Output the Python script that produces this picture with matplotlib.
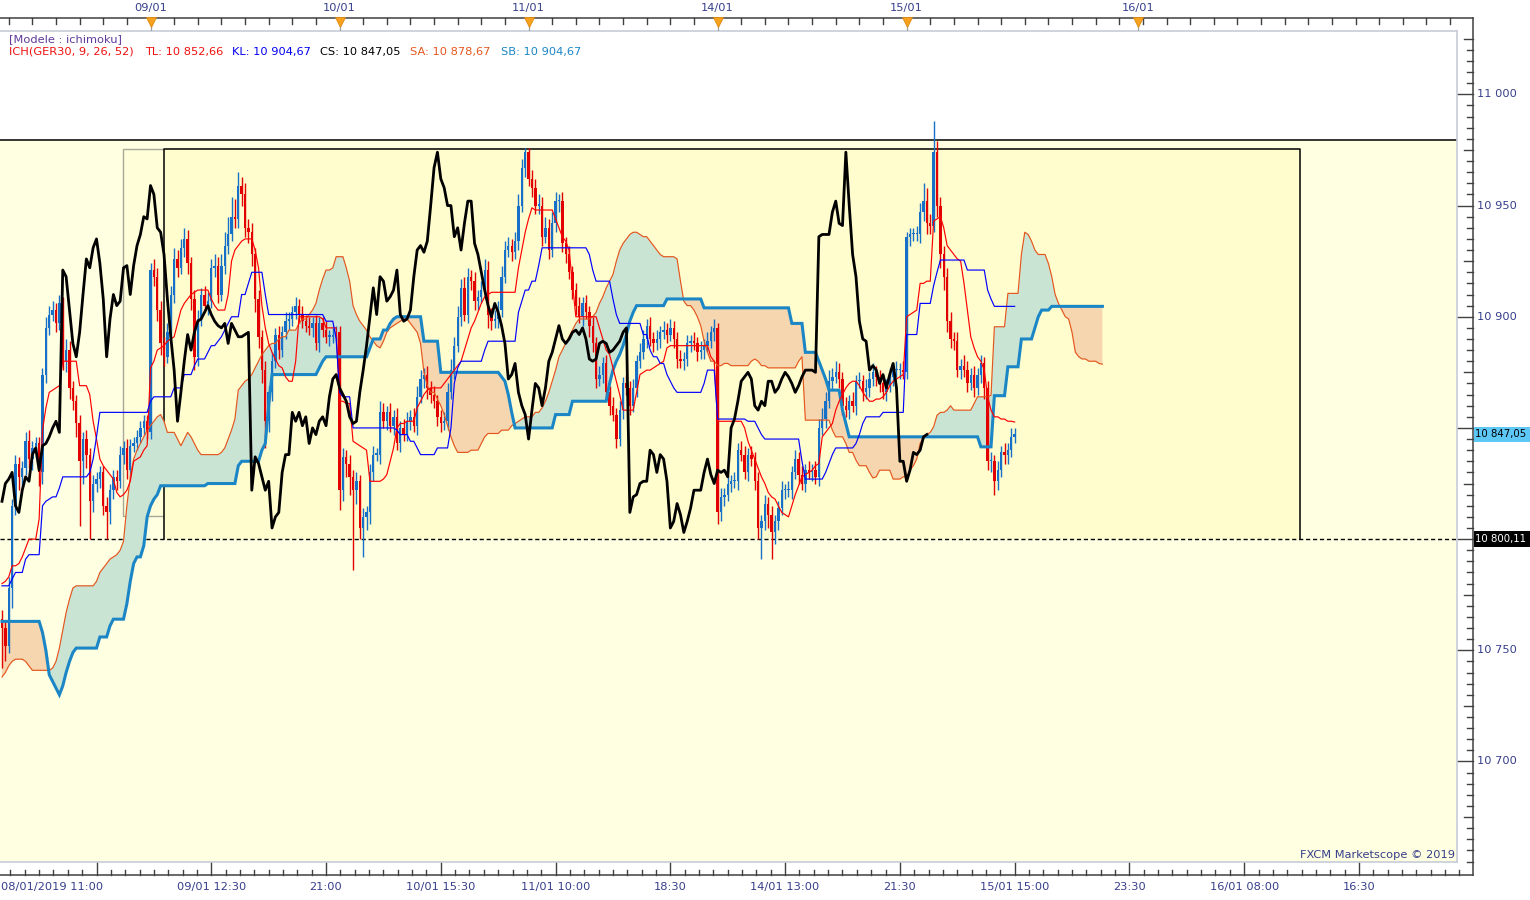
import numpy as np
import matplotlib
matplotlib.use("Agg")
import matplotlib.pyplot as plt
from matplotlib.patches import Rectangle

plt.rcParams['font.family'] = ['DejaVu Sans']

# ---------------- DATA (15-minute bars, GER30) ----------------
OPEN_FIRST = 10764
CLOSE = [
    10760, 10752, 10778, 10815, 10834, 10828, 10832, 10844, 10836, 10841,
    10843, 10830, 10874, 10895, 10901, 10903, 10897, 10906, 10880, 10885,
    10868, 10862, 10852, 10835, 10845, 10838, 10817, 10825, 10827, 10830,
    10815, 10812, 10822, 10828, 10826, 10838, 10841, 10831, 10842, 10843,
    10846, 10850, 10853, 10848, 10921, 10918, 10903, 10888, 10882, 10893,
    10910, 10926, 10922, 10931, 10935, 10924, 10908, 10882, 10899, 10910,
    10905, 10907, 10922, 10923, 10910, 10923, 10932, 10937, 10945, 10944,
    10959, 10955, 10940, 10938, 10928, 10908, 10891, 10876, 10853, 10866,
    10880, 10892, 10885, 10893, 10898, 10899, 10902, 10905, 10901, 10898,
    10896, 10895, 10897, 10888, 10897, 10894, 10891, 10891, 10892, 10893,
    10822, 10837, 10834, 10828, 10822, 10826, 10805, 10810, 10812, 10830,
    10838, 10838, 10857, 10853, 10857, 10851, 10855, 10843, 10850, 10847,
    10853, 10855, 10851, 10864, 10872, 10874, 10868, 10865, 10862, 10855,
    10852, 10853, 10866, 10876, 10887, 10900, 10913, 10901, 10918, 10916,
    10907, 10909, 10912, 10921, 10901, 10898, 10899, 10903, 10918, 10930,
    10932, 10929, 10934, 10950, 10967, 10974, 10962, 10958, 10950, 10950,
    10936, 10940, 10930, 10942, 10952, 10952, 10933, 10928, 10920, 10912,
    10905, 10900, 10906, 10902, 10896, 10888, 10872, 10874, 10879, 10866,
    10860, 10856, 10845, 10858, 10870, 10868, 10860, 10868, 10880, 10884,
    10890, 10896, 10890, 10888, 10890, 10893, 10894, 10892, 10895, 10890,
    10881, 10880, 10881, 10888, 10889, 10888, 10884, 10885, 10887, 10889,
    10893, 10895, 10812, 10819, 10820, 10825, 10826, 10826, 10840, 10838,
    10830, 10838, 10836, 10826, 10805, 10808, 10816, 10811, 10803, 10808,
    10814, 10822, 10822, 10822, 10830, 10836, 10829, 10825, 10831, 10830,
    10831, 10828, 10850, 10854, 10862, 10871, 10873, 10875, 10872, 10860,
    10858, 10862, 10860, 10871, 10871, 10866, 10868, 10872, 10875, 10873,
    10870, 10866, 10869, 10873, 10876, 10876, 10876, 10875, 10936, 10937,
    10937, 10937, 10947, 10952, 10942, 10941, 10974, 10950, 10928, 10918,
    10898, 10890, 10889, 10876, 10878, 10876, 10870, 10874, 10868, 10874,
    10879, 10868, 10835, 10835, 10826, 10831, 10839, 10838, 10840, 10846,
    10847.05,
]
WICK_UP = [
    4, 3, 5, 3, 4, 3, 3, 4, 5, 3,  3, 3, 3, 5, 4, 4, 3, 4, 3, 5,
    4, 3, 3, 4, 3, 4, 3, 4, 3, 3,  3, 4, 3, 3, 3, 4, 3, 4, 3, 3,
    3, 3, 3, 3, 3, 5, 4, 4, 3, 4,  4, 5, 4, 4, 5, 4, 3, 4, 4, 3,
    4, 4, 4, 5, 4, 5, 6, 8, 9, 8,  6, 4, 5, 4, 4, 3, 4, 3, 4, 3,
    4, 3, 4, 3, 4, 3, 3, 4, 3, 4,  3, 4, 3, 4, 3, 3, 4, 3, 3, 3,
    3, 4, 3, 4, 3, 4, 3, 4, 3, 4,  4, 3, 5, 4, 3, 4, 3, 4, 3, 4,
    4, 3, 4, 5, 4, 3, 4, 3, 4, 3,  3, 4, 4, 5, 4, 5, 4, 5, 4, 3,
    4, 3, 4, 5, 4, 3, 4, 4, 5, 4,  4, 3, 4, 5, 4, 2, 2, 4, 4, 5,
    4, 5, 4, 5, 4, 3, 4, 3, 4, 3,  3, 4, 3, 4, 3, 4, 3, 4, 3, 4,
    3, 4, 3, 4, 3, 4, 3, 4, 3, 4,  4, 3, 4, 3, 4, 3, 4, 3, 4, 3,
    3, 4, 3, 4, 3, 4, 3, 4, 3, 4,  3, 4, 2, 4, 3, 4, 3, 4, 3, 4,
    4, 3, 4, 3, 4, 3, 4, 3, 4, 3,  3, 4, 3, 4, 3, 4, 3, 4, 3, 4,
    3, 4, 4, 5, 4, 5, 4, 5, 4, 3,  4, 3, 4, 3, 4, 3, 4, 3, 4, 3,
    3, 4, 3, 4, 3, 4, 3, 4, 2, 3,  3, 4, 4, 8, 6, 4, 14, 5, 4, 4,
    4, 4, 3, 4, 3, 5, 4, 3, 4, 3,  4, 3, 3, 4, 3, 4, 3, 4, 3, 4,
    3,
]
WICK_DN = [
    18, 7, 3, 9, 4, 6, 5, 3, 4, 5,  4, 6, 5, 4, 3, 3, 4, 3, 4, 5,
    5, 4, 6, 29, 10, 6, 17, 5, 4, 4,  4, 12, 5, 4, 4, 3, 4, 4, 3, 3,
    3, 3, 3, 3, 3, 4, 5, 5, 4, 3,  3, 4, 4, 3, 4, 5, 5, 6, 4, 3,
    3, 4, 3, 4, 4, 3, 4, 4, 3, 4,  4, 5, 4, 5, 5, 6, 5, 6, 12, 5,
    4, 3, 4, 3, 3, 4, 3, 3, 4, 3,  3, 3, 4, 3, 4, 3, 3, 4, 3, 3,
    9, 5, 6, 8, 36, 6, 5, 13, 6, 5,  4, 3, 4, 3, 4, 3, 4, 3, 4, 3,
    3, 4, 3, 4, 3, 4, 5, 4, 3, 4,  4, 3, 4, 3, 4, 3, 4, 3, 4, 4,
    4, 4, 3, 4, 6, 4, 3, 4, 3, 3,  3, 4, 3, 4, 3, 4, 3, 4, 4, 4,
    4, 3, 4, 3, 4, 5, 4, 4, 3, 4,  4, 3, 4, 3, 5, 4, 4, 3, 4, 3,
    4, 3, 4, 3, 4, 3, 4, 3, 4, 3,  3, 4, 3, 4, 3, 4, 3, 4, 3, 4,
    4, 3, 4, 3, 4, 3, 4, 3, 4, 3,  3, 4, 5, 4, 4, 3, 4, 3, 4, 3,
    3, 4, 3, 4, 5, 14, 4, 6, 12, 5,  4, 3, 4, 3, 4, 3, 4, 3, 4, 3,
    4, 3, 4, 3, 4, 3, 4, 3, 4, 4,  3, 4, 3, 4, 3, 4, 3, 4, 3, 4,
    4, 3, 4, 3, 4, 3, 4, 3, 3, 4,  3, 3, 4, 4, 5, 4, 3, 5, 6, 6,
    5, 4, 4, 3, 4, 3, 4, 3, 4, 3,  4, 5, 4, 5, 6, 4, 3, 4, 4, 3,
    3,
]
# Tenkan-sen (TL)
TL = [
    10780, 10781, 10783, 10788, 10788, 10789, 10792, 10796, 10800, 10800,
    10800, 10809, 10849, 10859, 10866, 10867, 10868, 10869, 10880, 10880,
    10880, 10880, 10880, 10869, 10869, 10869, 10865, 10853, 10845, 10836,
    10833, 10831, 10829, 10827, 10821, 10819, 10820, 10822, 10826, 10835,
    10836, 10837, 10840, 10842, 10877, 10880, 10885, 10886, 10887, 10889,
    10890, 10891, 10897, 10903, 10906, 10908, 10910, 10911, 10912, 10912,
    10912, 10912, 10908, 10905, 10903, 10903, 10903, 10910, 10925, 10930,
    10932, 10934, 10935, 10935, 10935, 10930, 10922, 10905, 10895, 10888,
    10884, 10881, 10878, 10877, 10873, 10871, 10871, 10880, 10900, 10900,
    10900, 10900, 10900, 10900, 10900, 10899, 10895, 10895, 10895, 10895,
    10862, 10862, 10861, 10861, 10844, 10843, 10842, 10841, 10840, 10826,
    10826, 10826, 10826, 10827, 10829, 10835, 10841, 10850, 10852, 10852,
    10853, 10853, 10853, 10859, 10862, 10865, 10867, 10868, 10868, 10868,
    10868, 10870, 10872, 10874, 10876, 10878, 10880, 10885, 10890, 10895,
    10898, 10902, 10906, 10909, 10910, 10911, 10911, 10911, 10911, 10911,
    10911, 10911, 10911, 10922, 10930, 10938, 10944, 10949, 10948, 10948,
    10948, 10948, 10948, 10948, 10944, 10940, 10936, 10934, 10930, 10915,
    10900, 10900, 10900, 10900, 10900, 10900, 10900, 10895, 10890, 10885,
    10883, 10877, 10871, 10865, 10858, 10858, 10858, 10858, 10866, 10874,
    10875, 10876, 10876, 10877, 10878, 10879, 10880, 10886, 10887, 10887,
    10887, 10887, 10887, 10887, 10887, 10887, 10887, 10887, 10887, 10887,
    10882, 10880, 10853, 10853, 10853, 10853, 10853, 10853, 10853, 10853,
    10850, 10844, 10840, 10836, 10832, 10828, 10825, 10821, 10819, 10818,
    10815, 10812, 10811, 10810, 10815, 10820, 10824, 10828, 10829, 10830,
    10831, 10833, 10834, 10846, 10848, 10850, 10852, 10858, 10862, 10865,
    10868, 10870, 10871, 10871, 10869, 10866, 10864, 10862, 10862, 10863,
    10863, 10864, 10866, 10869, 10871, 10872, 10873, 10874, 10900, 10901,
    10902, 10903, 10915, 10915, 10916, 10916, 10943, 10944, 10945, 10940,
    10932, 10930, 10928, 10926, 10925, 10915, 10903, 10891, 10886, 10882,
    10880, 10876, 10864, 10858, 10855, 10855, 10854, 10854, 10853, 10853,
    10852.66,
]
# Kijun-sen (KL)
KL = [
    10779, 10779, 10779, 10782, 10785, 10785, 10785, 10791, 10793, 10793,
    10793, 10793, 10815, 10817, 10818, 10819, 10819, 10823, 10828, 10828,
    10828, 10828, 10828, 10828, 10828, 10828, 10830, 10836, 10846, 10857,
    10857, 10857, 10857, 10857, 10857, 10857, 10857, 10857, 10857, 10857,
    10857, 10857, 10857, 10857, 10862, 10864, 10864, 10864, 10864, 10864,
    10864, 10868, 10868, 10868, 10874, 10874, 10874, 10878, 10881, 10881,
    10881, 10884, 10887, 10887, 10889, 10891, 10894, 10897, 10900, 10900,
    10900, 10910, 10910, 10915, 10920, 10920, 10920, 10920, 10910, 10901,
    10901, 10901, 10901, 10901, 10901, 10901, 10901, 10901, 10901, 10901,
    10901, 10901, 10901, 10901, 10901, 10901, 10898, 10898, 10898, 10890,
    10866, 10864, 10864, 10864, 10850, 10850, 10850, 10850, 10850, 10850,
    10850, 10850, 10850, 10850, 10850, 10850, 10850, 10849, 10847, 10847,
    10847, 10844, 10844, 10841, 10838, 10838, 10838, 10838, 10838, 10841,
    10841, 10841, 10841, 10850, 10870, 10877, 10880, 10880, 10880, 10880,
    10880, 10880, 10880, 10885, 10889, 10889, 10889, 10889, 10889, 10889,
    10889, 10889, 10889, 10902, 10907, 10912, 10912, 10916, 10916, 10923,
    10931, 10931, 10931, 10931, 10931, 10931, 10931, 10931, 10931, 10931,
    10931, 10931, 10931, 10931, 10928, 10921, 10916, 10916, 10916, 10916,
    10916, 10908, 10901, 10897, 10897, 10897, 10897, 10897, 10897, 10897,
    10892, 10892, 10885, 10882, 10882, 10879, 10879, 10874, 10871, 10868,
    10866, 10866, 10866, 10866, 10866, 10866, 10866, 10866, 10870, 10876,
    10876, 10876, 10854, 10854, 10854, 10854, 10854, 10854, 10854, 10854,
    10854, 10853, 10853, 10853, 10850, 10847, 10845, 10845, 10845, 10845,
    10845, 10845, 10845, 10845, 10845, 10845, 10845, 10835, 10827, 10827,
    10827, 10827, 10827, 10827, 10830, 10834, 10838, 10841, 10841, 10841,
    10841, 10841, 10841, 10843, 10847, 10852, 10855, 10855, 10855, 10855,
    10855, 10857, 10857, 10857, 10857, 10857, 10857, 10857, 10892, 10892,
    10892, 10892, 10906, 10906, 10906, 10906, 10914, 10920, 10925.5, 10925.5,
    10925.5, 10925.5, 10925.5, 10925.5, 10925.5, 10925.5, 10921, 10921, 10921, 10921,
    10921, 10921, 10912, 10908, 10904.67, 10904.67, 10904.67, 10904.67, 10904.67, 10904.67,
    10904.67,
]
# Senkou span A (already displaced 26 bars ahead, 327 points)
SA = [
    10738, 10740, 10743, 10745, 10746, 10746, 10746, 10745, 10743, 10741,
    10741, 10741, 10741, 10741, 10741, 10742, 10745, 10751, 10759, 10767,
    10773, 10778, 10779, 10779, 10779, 10779, 10779, 10779, 10781, 10785,
    10787, 10789, 10791, 10792, 10793, 10795, 10799, 10815, 10828, 10836,
    10840, 10843, 10846, 10849, 10851, 10853, 10855, 10856, 10853, 10848,
    10848, 10848, 10845, 10842, 10845, 10848, 10846, 10843, 10840, 10838,
    10838, 10838, 10838, 10838, 10838, 10839, 10841, 10845, 10849, 10854,
    10867, 10869, 10871, 10872, 10874, 10877, 10880, 10883, 10885, 10887,
    10888, 10888, 10890, 10891, 10891, 10894, 10894, 10894, 10897, 10899,
    10899, 10901, 10903, 10906, 10912, 10917, 10921, 10921, 10922, 10927,
    10927, 10927, 10922, 10916, 10905, 10901, 10898, 10896, 10894, 10891,
    10889, 10887, 10886, 10889, 10893, 10895, 10896, 10897, 10898, 10899,
    10899, 10897, 10895, 10893, 10888, 10875, 10869, 10866, 10866, 10863,
    10860, 10856, 10851, 10846, 10842, 10839, 10839, 10839, 10839, 10840,
    10840, 10840, 10843, 10846, 10847.5, 10847.5, 10847.5, 10847.5, 10849, 10849,
    10849, 10851, 10852, 10853, 10854, 10855, 10855, 10855, 10857, 10857,
    10859, 10862, 10866, 10871, 10876, 10882, 10885, 10888, 10891, 10894,
    10897, 10899, 10899, 10899, 10899, 10900, 10902, 10906, 10909, 10913,
    10916, 10919, 10925, 10930, 10933, 10935, 10937, 10938, 10938, 10937,
    10936, 10936, 10934, 10932, 10930, 10928, 10927, 10927, 10927, 10927,
    10926, 10916, 10907, 10905, 10905, 10903, 10900, 10896, 10889, 10884,
    10880, 10880, 10878, 10878, 10879, 10879, 10878, 10878, 10878, 10878,
    10878, 10878, 10880, 10881, 10880, 10878, 10878, 10877, 10877, 10877,
    10877, 10877, 10877, 10877, 10877, 10877, 10880, 10882, 10853.5, 10853.5,
    10853.5, 10853.5, 10853.5, 10853.5, 10853.5, 10853.5, 10849, 10846, 10846, 10846,
    10843, 10839, 10839, 10835.5, 10833, 10833, 10833, 10830, 10827.5, 10828,
    10831, 10831, 10831, 10831, 10827, 10827, 10827, 10828, 10828, 10831,
    10833, 10836, 10843, 10845, 10847, 10848, 10850.5, 10855.7, 10857, 10857,
    10858, 10860, 10858, 10858, 10858, 10858, 10858, 10858, 10861, 10864,
    10864, 10864, 10864, 10864.7, 10895.5, 10895.5, 10895.5, 10895.5, 10910.5, 10910.5,
    10910.5, 10910.5, 10928, 10938, 10937, 10934, 10930, 10928, 10928, 10928,
    10924, 10918, 10910, 10906, 10903, 10900, 10899, 10893, 10884, 10882,
    10881, 10881, 10880, 10880, 10880, 10879, 10878.67,
]
# Senkou span B (already displaced 26 bars ahead, 327 points)
SB = [
    10763, 10763, 10763, 10763, 10763, 10763, 10763, 10763, 10763, 10763,
    10763, 10763, 10758, 10750, 10739, 10736, 10733, 10730, 10734, 10740,
    10745, 10749, 10751, 10751, 10751, 10751, 10751, 10751, 10751, 10756,
    10756, 10756, 10761, 10764, 10764, 10764, 10764, 10771, 10781, 10789,
    10792, 10792, 10797, 10810, 10815, 10818, 10820, 10824, 10824, 10824,
    10824, 10824, 10824, 10824, 10824, 10824, 10824, 10824, 10824, 10824,
    10824, 10825, 10825, 10825, 10825, 10825, 10825, 10825, 10825, 10825,
    10833, 10835, 10835, 10835, 10835, 10835, 10835, 10840, 10843, 10860,
    10874, 10874, 10874, 10874, 10874, 10874, 10874, 10874, 10874, 10874,
    10874, 10874, 10874, 10874, 10877, 10880, 10882, 10882, 10882, 10882,
    10882, 10882, 10882, 10882, 10882, 10882, 10882, 10882, 10882, 10886,
    10890, 10890, 10890, 10894, 10894, 10897, 10899, 10900, 10900, 10900,
    10900, 10900, 10900, 10900, 10900, 10889, 10889, 10889, 10889, 10889,
    10875, 10875, 10875, 10875, 10875, 10875, 10875, 10875, 10875, 10875,
    10875, 10875, 10875, 10875, 10875, 10875, 10875, 10875, 10873, 10871,
    10865, 10857, 10850, 10850, 10850, 10850, 10850, 10850, 10850, 10850,
    10850, 10850, 10850, 10850, 10856, 10856, 10856, 10856, 10856, 10862,
    10862, 10862, 10862, 10862, 10862, 10862, 10862, 10862, 10862, 10862,
    10870, 10876, 10880, 10883, 10887, 10892, 10898, 10902, 10905, 10905,
    10905, 10905, 10905, 10905, 10905, 10905, 10905, 10908, 10908, 10908,
    10908, 10908, 10908, 10908, 10908, 10908, 10908, 10908, 10904, 10904,
    10904, 10904, 10904, 10904, 10904, 10904, 10904, 10904, 10904, 10904,
    10904, 10904, 10904, 10904, 10904, 10904, 10904, 10904, 10904, 10904,
    10904, 10904, 10904, 10904, 10897, 10897, 10897, 10897, 10884, 10884,
    10884, 10884, 10880, 10876, 10872, 10867, 10867, 10867, 10867, 10858,
    10852, 10846, 10846, 10846, 10846, 10846, 10846, 10846, 10846, 10846,
    10846, 10846, 10846, 10846, 10846, 10846, 10846, 10846, 10846, 10846,
    10846, 10846, 10846, 10846, 10846, 10846, 10846, 10846, 10846, 10846,
    10846, 10846, 10846, 10846, 10846, 10846, 10846, 10846, 10846, 10846,
    10841.5, 10841.5, 10841.5, 10841.5, 10864.5, 10864.5, 10864.5, 10864.5, 10877.5, 10877.5,
    10877.5, 10877.5, 10890, 10890, 10890, 10890, 10895, 10900, 10903, 10903,
    10903, 10904.67, 10904.67, 10904.67, 10904.67, 10904.67, 10904.67, 10904.67, 10904.67, 10904.67,
    10904.67, 10904.67, 10904.67, 10904.67, 10904.67, 10904.67, 10904.67,
]
SHIFT = 26
# drawn objects (price levels / bar indices)
TOP_LINE = 10979.4
LOWER_LINE = 10800.11
BOX_BLACK = (48.0, 384.5, 10800.11, 10975.4)
BOX_GRAY = (35.8, 376.3, 10810.3, 10975.4)
DAY_BARS = [44, 100, 156, 212, 268, 336.5]
DAY_LABELS = ["09/01", "10/01", "11/01", "14/01", "15/01", "16/01"]
TIME_BARS = [62, 96, 130, 164, 198, 232, 266, 300, 334, 368, 402]
TIME_LABELS = ["09/01 12:30", "21:00", "10/01 15:30", "11/01 10:00", "18:30",
               "14/01 13:00", "21:30", "15/01 15:00", "23:30", "16/01 08:00", "16:30"]
FIRST_LABEL = "08/01/2019 11:00"

# ---------------- LAYOUT ----------------
W, H = 1530, 900
fig = plt.figure(figsize=(W / 100, H / 100), dpi=100)
fig.patch.set_facecolor("white")

PX_L, PX_R, PX_T, PX_B = 0, 1457, 31, 862
X_LEFT, X_RIGHT = -0.59, 431.05
P_TOP, P_BOT = 11028.5, 10654.8
AXIS_X = 1473
TXT = "#363E8A"
FS = 8.2
FS_BOX = 7.3


def frect(x0, y0, x1, y1):
    return [x0 / W, 1 - y1 / H, (x1 - x0) / W, (y1 - y0) / H]


def bar_at(px):
    return X_LEFT + (px - PX_L) * (X_RIGHT - X_LEFT) / (PX_R - PX_L)


def price_at(py):
    return P_TOP + (py - PX_T) * (P_BOT - P_TOP) / (PX_B - PX_T)


def fmt(v):
    s = f"{v:,.2f}"
    return s.replace(",", " ").replace(".", ",")


# ---------------- MAIN AXES ----------------
ax = fig.add_axes(frect(PX_L, PX_T, PX_R, PX_B))
ax.set_xlim(X_LEFT, X_RIGHT)
ax.set_ylim(P_BOT, P_TOP)
ax.set_xticks([])
ax.set_yticks([])
ax.set_facecolor("white")
for k, s in ax.spines.items():
    s.set_color("#C6CDD8")
    s.set_linewidth(1.2)
ax.spines["left"].set_visible(False)

ax.axhspan(P_BOT, TOP_LINE, color="#FFFFE1", lw=0, zorder=0)
ax.axhline(TOP_LINE, color="black", lw=1.1, zorder=1)

gx0, gx1, gy0, gy1 = BOX_GRAY
ax.add_patch(Rectangle((gx0, gy0), gx1 - gx0, gy1 - gy0, fc="#FFFED8",
                       ec="#A8A898", lw=1.0, zorder=0.5))
bx0, bx1, by0, by1 = BOX_BLACK
ax.add_patch(Rectangle((bx0, by0), bx1 - bx0, by1 - by0, fc="#FFFDCE",
                       ec="none", lw=0, zorder=0.6))
ax.plot([bx0, bx0, bx1, bx1], [by0, by1, by1, by0], color="black", lw=1.1,
        zorder=1)
ax.axhline(LOWER_LINE, color="black", lw=1.0, ls=(0, (3, 2)), zorder=1)

# cloud
sa = np.array(SA, float)
sb = np.array(SB, float)
kk = np.arange(len(sa))
ax.fill_between(kk, sa, sb, where=sa >= sb, interpolate=True,
                color="#CAE4D4", lw=0, zorder=2)
ax.fill_between(kk, sa, sb, where=sa < sb, interpolate=True,
                color="#F6D6AF", lw=0, zorder=2)

# candles
close = np.array(CLOSE, float)
opn = np.concatenate([[OPEN_FIRST], close[:-1]])
hi = np.maximum(opn, close) + np.array(WICK_UP, float)
lo = np.minimum(opn, close) - np.array(WICK_DN, float)
idx = np.arange(len(close))
BLUE, RED = "#1670C8", "#E30000"
cols = np.where(close >= opn, BLUE, RED)
ax.vlines(idx, lo, hi, colors=cols, lw=1.0, zorder=3)
body = np.maximum(np.abs(close - opn), 0.7)
ax.bar(idx, body, bottom=np.minimum(opn, close), width=0.7, color=cols,
       lw=0, zorder=3)

# indicator lines
ax.plot(kk, sa, color="#E4561E", lw=0.85, zorder=4)
ax.plot(kk, sb, color="#1B86C6", lw=2.2, zorder=4, solid_joinstyle="miter")
ax.plot(idx, TL, color="#FF0000", lw=0.85, zorder=5)
ax.plot(idx, KL, color="#0000FF", lw=0.85, zorder=5)
ax.plot(idx[SHIFT:] - SHIFT, close[SHIFT:], color="black", lw=2.0, zorder=6)

ax.text(0.9985, (PX_B - 855) / (PX_B - PX_T), "FXCM Marketscope © 2019",
        transform=ax.transAxes, ha="right", va="center", fontsize=FS,
        color=TXT, zorder=7)

# ---------------- RIGHT PRICE AXIS ----------------
axr = fig.add_axes(frect(PX_R, 0, W, H))
axr.set_xlim(PX_R, W)
axr.set_ylim(price_at(H), price_at(0))
axr.axis("off")
axr.plot([AXIS_X, AXIS_X], [price_at(18), price_at(875)], color="#404040",
         lw=1.1, clip_on=False)
last_cs = close[-1]
for p in range(10655, 11030, 5):
    if p % 50 == 0:
        x0 = PX_R + 1
    elif p % 25 == 0:
        x0 = AXIS_X - 9
    else:
        x0 = AXIS_X - 6
    axr.plot([x0, AXIS_X], [p, p], color="#404040", lw=1.0)
    # labels hidden behind the value boxes are not drawn
    if p % 50 == 0 and abs(p - last_cs) > 8 and abs(p - LOWER_LINE) > 8:
        axr.text(AXIS_X + 4, p, f"{p // 1000} {p % 1000:03d}", ha="left",
                 va="center", fontsize=FS, color=TXT, zorder=2)
half = 3.5
axr.add_patch(Rectangle((AXIS_X + 1, last_cs - half), W - AXIS_X, 2 * half,
                        fc="#5DC8F6", ec="none", zorder=3))
axr.text(AXIS_X + 2, last_cs, fmt(last_cs), ha="left", va="center",
         fontsize=FS_BOX, color="black", zorder=4)
axr.add_patch(Rectangle((AXIS_X + 1, LOWER_LINE - half), W - AXIS_X, 2 * half,
                        fc="black", ec="none", zorder=3))
axr.text(AXIS_X + 2, LOWER_LINE, fmt(LOWER_LINE), ha="left", va="center",
         fontsize=FS_BOX, color="white", zorder=4)

# ---------------- BOTTOM TIME AXIS ----------------
axb = fig.add_axes(frect(0, PX_B, AXIS_X + 1, H))
axb.set_xlim(bar_at(0), bar_at(AXIS_X + 1))
axb.set_ylim(H, PX_B)
axb.axis("off")
axb.plot([bar_at(0), bar_at(AXIS_X)], [875, 875], color="#404040", lw=1.1)
major = np.arange(28, bar_at(AXIS_X), 34)
minor = np.arange(28 - 34, bar_at(AXIS_X), 34 / 8)
for b in minor:
    if b < bar_at(0):
        continue
    if np.min(np.abs(major - b)) < 0.1:
        axb.plot([b, b], [PX_B + 1, 875], color="#404040", lw=1.0)
    else:
        axb.plot([b, b], [870, 875], color="#404040", lw=1.0)
axb.text(bar_at(1), 887, FIRST_LABEL, ha="left", va="center", fontsize=FS,
         color=TXT)
for b, lab in zip(TIME_BARS, TIME_LABELS):
    axb.text(b, 887, lab, ha="center", va="center", fontsize=FS, color=TXT)

# ---------------- TOP DATE AXIS ----------------
axt = fig.add_axes(frect(0, 0, AXIS_X + 1, PX_T))
axt.set_xlim(bar_at(0), bar_at(AXIS_X + 1))
axt.set_ylim(PX_T, 0)
axt.axis("off")
axt.plot([bar_at(0), bar_at(AXIS_X)], [18, 18], color="#404040", lw=1.1)
for b in np.arange(44 - 7 * 6, bar_at(AXIS_X), 7):
    axt.plot([b, b], [18, 24], color="#404040", lw=1.0)
for b, lab in zip(DAY_BARS, DAY_LABELS):
    axt.plot([b, b], [26, PX_T], color="#A0A0A0", lw=0.9)
    axt.plot([b], [22], marker="v", ms=7.5, color="#F6A21E", mec="#E08A10",
             mew=0.6, clip_on=False)
    axt.text(b, 8, lab, ha="center", va="center", fontsize=FS, color=TXT)

# ---------------- LEGEND TEXT ----------------
def ftext(px, py, s, color):
    fig.text(px / W, 1 - py / H, s, ha="left", va="center", fontsize=FS,
             color=color)


ftext(9, 39, "[Modele : ichimoku]", "#603A9A")
ftext(9, 52, "ICH(GER30, 9, 26, 52)", "#F01010")
ftext(145, 52, f"TL: {fmt(TL[-1])}", "#F01010")
ftext(232, 52, f"KL: {fmt(KL[-1])}", "#0000F0")
ftext(320, 52, f"CS: {fmt(close[-1])}", "#000000")
ftext(410, 52, f"SA: {fmt(SA[-1])}", "#E4561E")
ftext(501, 52, f"SB: {fmt(SB[-1])}", "#1B86C6")

fig.savefig("out.png", dpi=100, facecolor="white")
